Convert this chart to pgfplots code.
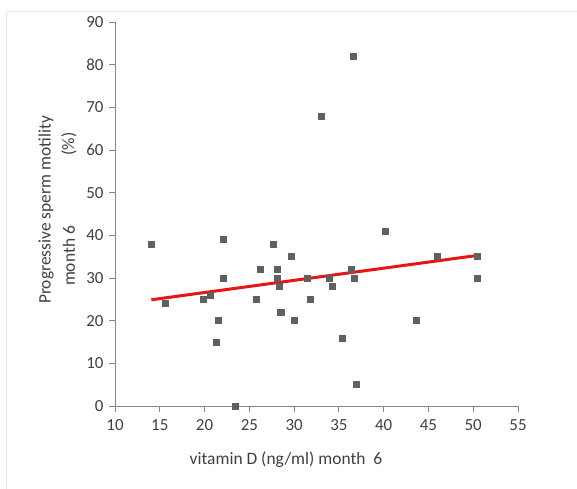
\documentclass[border=0pt]{standalone}
\usepackage{fontspec}
\setmainfont{Carlito}
\usepackage{pgfplots}
\pgfplotsset{compat=1.18}
\definecolor{axgray}{RGB}{134,134,134}
\definecolor{mk}{RGB}{96,96,96}
\definecolor{txt}{RGB}{64,64,64}
\definecolor{trend}{RGB}{228,22,22}
\begin{document}
\begin{tikzpicture}[x=1bp,y=1bp]
\path[use as bounding box] (-115,-83) rectangle (462,406);
\draw[black!8, line width=1bp] (-108,-83) -- (-108,394) -- (462,394);
\begin{axis}[at={(0,0)}, anchor=south west, scale only axis,
  width=403bp, height=384bp,
  xmin=10, xmax=55, ymin=0, ymax=90,
  xtick={10,15,...,55}, ytick={0,10,...,90},
  axis x line*=bottom, axis y line*=left,
  axis line style={axgray, line width=0.8bp, -},
  tick style={axgray, line width=0.8bp},
  tick align=outside, major tick length=6bp,
  ticklabel style={font=\fontsize{17}{19}\selectfont, text=txt},
  xticklabel style={yshift=-4bp},
  yticklabel style={xshift=-2bp},
  /pgf/number format/assume math mode=true,
  clip=false]
\addplot[only marks, mark=square*, mark size=3bp, mk, mark options={draw=mk, fill=mk}] coordinates {
(14.06,38) (15.66,24) (19.9,25) (20.58,26) (21.48,20) (21.33,15)
(22.11,39.2) (22.11,30) (23.41,0) (25.76,25) (26.2,32) (27.66,38)
(28.14,32) (28.14,30) (28.3,28) (28.4,22) (28.6,22) (29.7,35)
(30.04,20) (31.46,30) (31.76,25) (33.96,30) (34.29,28) (35.41,16)
(36.38,32) (36.68,30) (36.97,5) (40.14,41) (43.64,20) (45.99,35)
(50.39,35) (50.39,30) (36.64,82) (33.03,68)
};
\addplot[trend, line width=3bp] coordinates {(14.06,24.9) (50.5,35.3)};
\end{axis}
\node[rotate=90, text=txt, font=\fontsize{17.5}{19}\selectfont] at (-69,196) {Progressive sperm motility};
\node[rotate=90, text=txt, font=\fontsize{17.5}{19}\selectfont] at (-46,262) {(\%)};
\node[rotate=90, text=txt, font=\fontsize{17.5}{19}\selectfont] at (-46,150) {month 6};
\node[text=txt, font=\fontsize{17.5}{19}\selectfont] at (171,-54) {vitamin D (ng/ml) month\ \ 6};
\end{tikzpicture}
\end{document}
